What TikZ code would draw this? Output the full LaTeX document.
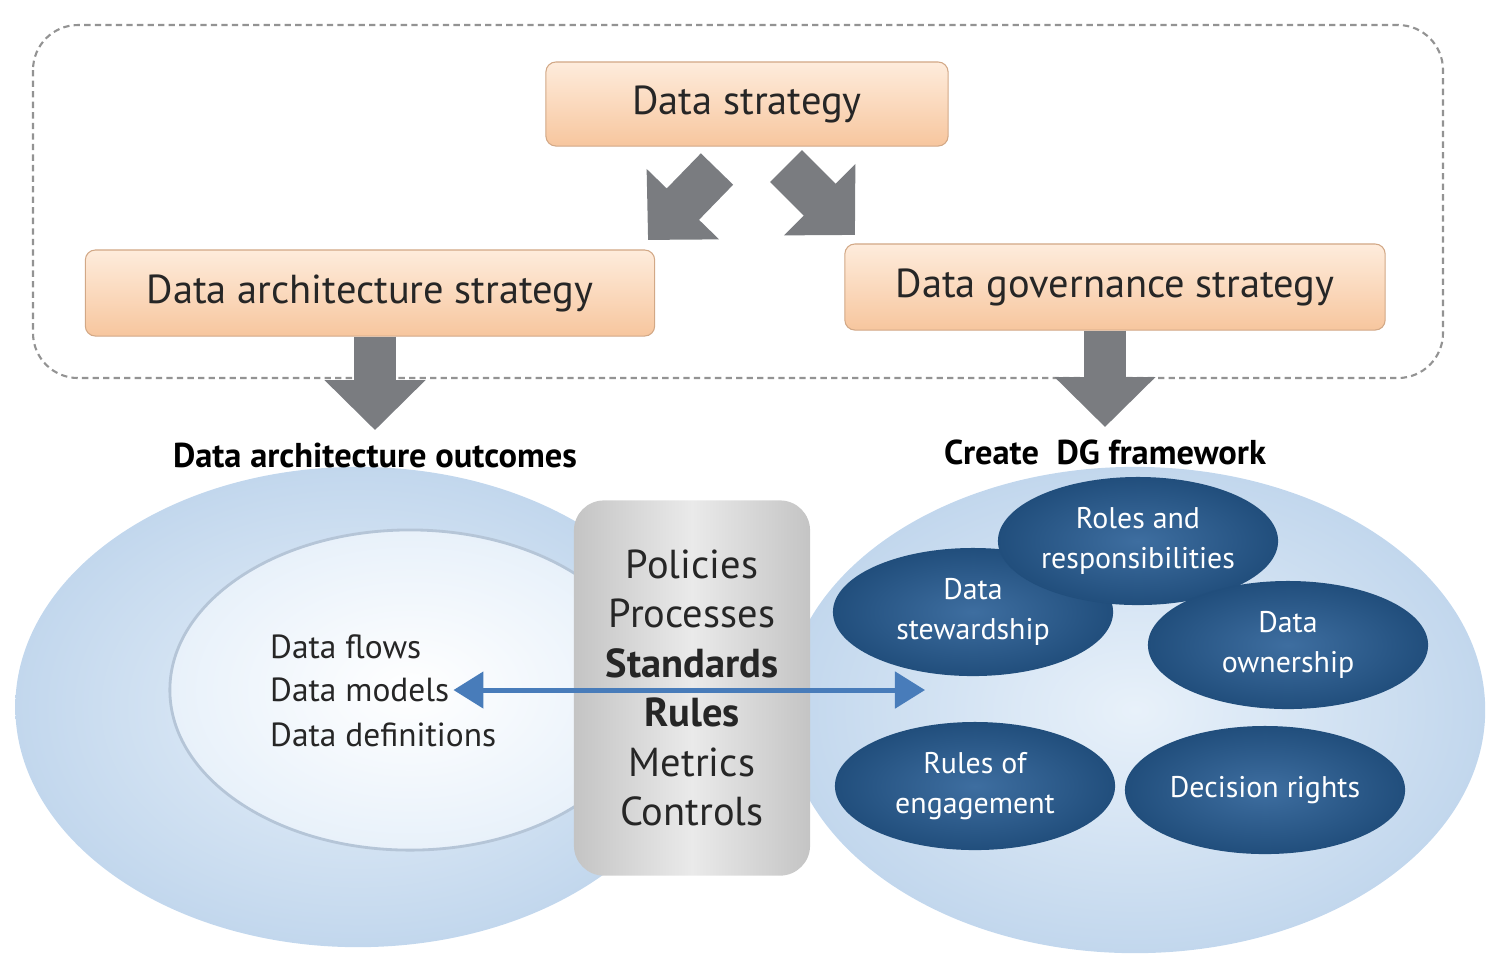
\documentclass[tikz,border=0pt]{standalone}
\usepackage{fontspec}
\setmainfont{PT Sans}
\usetikzlibrary{arrows.meta,shapes.geometric,calc}
\definecolor{peachtop}{RGB}{254,236,220}
\definecolor{peachbot}{RGB}{247,198,158}
\definecolor{paleblue}{RGB}{194,215,237}
\definecolor{paleinner}{RGB}{232,241,250}
\definecolor{deepblue}{RGB}{33,78,124}
\definecolor{deepinner}{RGB}{62,110,160}
\definecolor{arrowgray}{RGB}{122,124,128}
\definecolor{linkblue}{RGB}{72,124,186}
\definecolor{boxedge}{RGB}{196,196,196}
\definecolor{boxmid}{RGB}{234,234,234}
\tikzset{
  stratbox/.style={rectangle, rounded corners=0.1cm, top color=peachtop, bottom color=peachbot,
    draw=peachbot!85!black, line width=0.3pt, text=black!85, font=\fontsize{11.5}{14}\selectfont},
  bigarrow/.style={arrowgray, line width=#1, -{Triangle[width=0.98cm,length=0.5cm]}},
  bigarrow/.default=0.42cm,
  outlbl/.style={font=\fontsize{9.8}{11}\bfseries\selectfont},
  outerblob/.style={ellipse, inner color=paleinner, outer color=paleblue},
  listtext/.style={anchor=west, inner sep=1pt, font=\fontsize{9.5}{12}\selectfont, text=black!85},
  roleblob/.style={ellipse, minimum width=2.8cm, minimum height=1.28cm, inner sep=0pt,
    inner color=deepinner, outer color=deepblue, text=white, align=center,
    font=\fontsize{8.5}{11.4}\selectfont},
}
\begin{document}
\begin{tikzpicture}[x=0.01cm,y=-0.01cm]
  %%%%% START %%%%%
  \useasboundingbox (0,0) rectangle (1491,956);

  % strategy frame
  \draw[gray!85, line width=0.6pt, dash pattern=on 1.8pt off 1.2pt, rounded corners=0.45cm] (33,25) rectangle (1443,378);

  \node[stratbox, minimum width=4.02cm, minimum height=0.84cm] (strat) at (747,104) {Data strategy};
  \node[stratbox, minimum width=5.69cm, minimum height=0.86cm] (arch) at (370,293) {Data architecture strategy};
  \node[stratbox, minimum width=5.40cm, minimum height=0.86cm] (gov) at (1115,287) {Data governance strategy};

  \coordinate (ltail) at (717,169);
  \coordinate (ltip) at (648,240);
  \coordinate (rtail) at (786,166);
  \coordinate (rtip) at (855,235);
  \draw[bigarrow=0.45cm] (ltail) -- (ltip);
  \draw[bigarrow=0.45cm] (rtail) -- (rtip);

  % outcome blobs
  \node[outerblob, minimum width=6.85cm, minimum height=4.80cm] (archblob) at (358,707) {};
  \node[outerblob, minimum width=7.00cm, minimum height=4.86cm] (govblob) at (1135,710) {};
  \node[ellipse, minimum width=4.8cm, minimum height=3.2cm, inner color=white, outer color=paleinner,
    draw=paleblue!80!gray, line width=0.8pt] (core) at (410,690) {};

  \node[outlbl] (archlbl) at (375,455) {Data architecture outcomes};
  \node[outlbl] (govlbl) at (1105,452) {Create\ \ DG framework};
  \draw[bigarrow] (archlbl.north |- arch.south) -- (archlbl.north);
  \draw[bigarrow] (govlbl.north |- gov.south) -- (govlbl.north);

  \node[listtext] (flows) at (266,647) {Data flows};
  \node[listtext] (models) at (266,690) {Data models};
  \node[listtext] (defs) at (266,735) {Data definitions};

  \node[rectangle, rounded corners=0.3cm, minimum width=2.36cm, minimum height=3.75cm,
    left color=boxedge, right color=boxedge, middle color=boxmid, align=center, text=black!85,
    font=\fontsize{11.5}{14.06}\selectfont] (rulebox) at (692,688)
    {Policies\\Processes\\{\bfseries Standards}\\{\bfseries Rules}\\Metrics\\Controls};

  % governance parts
  \node[roleblob] (steward) at (973,612) {Data\\stewardship};
  \node[roleblob] (roles) at (1138,541) {Roles and\\responsibilities};
  \node[roleblob] (owner) at (1288,645) {Data\\ownership};
  \node[roleblob] (engage) at (975,786) {Rules of\\engagement};
  \node[roleblob] (decide) at (1265,790) {Decision rights};

  \coordinate (linkend) at (925,690);
  \draw[linkblue, line width=0.05cm, {Triangle[width=0.36cm,length=0.3cm]}-{Triangle[width=0.36cm,length=0.3cm]}]
    (models.east) -- (linkend);
  %%%%% END %%%%%
\end{tikzpicture}
\end{document}
